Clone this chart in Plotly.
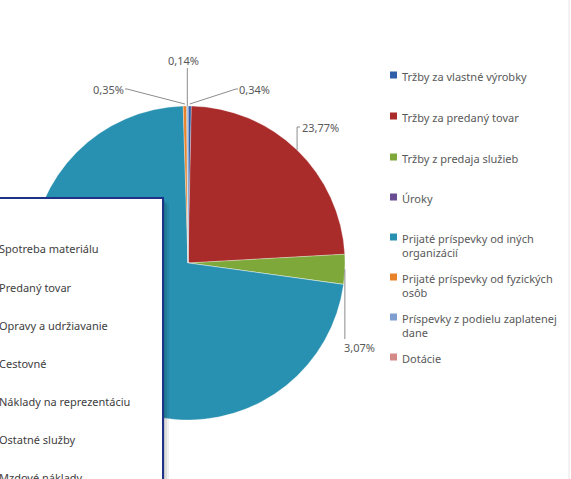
import math
import plotly.graph_objects as go

W, H = 571, 479

# ---- data ----
labels = ["Tržby za vlastné výrobky", "Tržby za predaný tovar", "Tržby z predaja služieb",
          "Úroky", "Prijaté príspevky od iných organizácií", "Prijaté príspevky od fyzických osôb",
          "Príspevky z podielu zaplatenej dane", "Dotácie"]
legend_text = ["Tržby za vlastné výrobky", "Tržby za predaný tovar", "Tržby z predaja služieb",
               "Úroky", "Prijaté príspevky od iných<br>organizácií", "Prijaté príspevky od fyzických<br>osôb",
               "Príspevky z podielu zaplatenej<br>dane", "Dotácie"]
values = [0.34, 23.77, 3.07, 0.0, 72.33, 0.35, 0.14, 0.0]
colors = ["#2f5fa8", "#a92c2b", "#7ea93a", "#6a4c93", "#2890b0", "#e8832a", "#7f9fd0", "#d48a87"]

other_legend = ["Spotreba materiálu", "Predaný tovar", "Opravy a udržiavanie", "Cestovné",
                "Náklady na reprezentáciu", "Ostatné služby", "Mzdové náklady"]

def px(x):
    return x / W

def py(y):
    return 1 - y / H

cx, cy, R = 188, 263, 157

fig = go.Figure()
fig.add_trace(go.Pie(
    labels=labels, values=values, sort=False, direction="clockwise", rotation=0,
    marker=dict(colors=colors, line=dict(color="rgba(255,255,255,0.6)", width=0.5)),
    textinfo="none", hoverinfo="label+percent", showlegend=False,
    domain=dict(x=[px(cx - R), px(cx + R)], y=[py(cy + R), py(cy - R)]),
))

shapes = []
annotations = []
TXT = "#595959"
FONT = "Noto Sans"

def fmt(v):
    return ("%.2f" % v).replace(".", ",") + "%"

# slice mid angles (clockwise from top)
total = sum(values)
cum = 0
mids = []
for v in values:
    mids.append((cum + v / 2) / total * 2 * math.pi)
    cum += v

def edge(i, r=R):
    a = mids[i]
    return cx + r * math.sin(a), cy - r * math.cos(a)

line_col = "#8c8c8c"
# 0,34%
ex, ey = edge(0)
shapes.append(dict(type="path", xref="paper", yref="paper",
                   path=f"M{px(ex)},{py(ey-2)} L{px(236)},{py(89)} L{px(238)},{py(89)}",
                   line=dict(color=line_col, width=1)))
annotations.append(dict(x=px(237), y=py(89), text=fmt(values[0]), xanchor="left", yanchor="middle"))
# 23,77%
ex, ey = edge(1)
shapes.append(dict(type="path", xref="paper", yref="paper",
                   path=f"M{px(ex)},{py(ey)} L{px(ex)},{py(127)} L{px(ex+3)},{py(127)}",
                   line=dict(color=line_col, width=1)))
annotations.append(dict(x=px(ex + 3), y=py(127), text=fmt(values[1]), xanchor="left", yanchor="middle"))
# 3,07%
ex, ey = edge(2)
shapes.append(dict(type="path", xref="paper", yref="paper",
                   path=f"M{px(ex)},{py(ey)} L{px(ex)},{py(339)}",
                   line=dict(color=line_col, width=1)))
annotations.append(dict(x=px(ex - 3), y=py(347), text=fmt(values[2]), xanchor="left", yanchor="middle"))
# 0,35%
ex, ey = edge(5)
shapes.append(dict(type="path", xref="paper", yref="paper",
                   path=f"M{px(ex)},{py(ey-2)} L{px(127)},{py(89)} L{px(125)},{py(89)}",
                   line=dict(color=line_col, width=1)))
annotations.append(dict(x=px(126), y=py(89), text=fmt(values[5]), xanchor="right", yanchor="middle"))
# 0,14%
ex, ey = edge(6)
shapes.append(dict(type="path", xref="paper", yref="paper",
                   path=f"M{px(ex)},{py(ey)} L{px(ex)},{py(68)}",
                   line=dict(color=line_col, width=1)))
annotations.append(dict(x=px(ex - 4), y=py(60), text=fmt(values[6]), xanchor="center", yanchor="middle"))

for a in annotations:
    a.update(xref="paper", yref="paper", showarrow=False, font=dict(family=FONT, size=11, color=TXT))

# right legend
leg_y = [75, 116, 157, 197, 237, 277, 317, 357]
for t, c, y in zip(legend_text, colors, leg_y):
    shapes.append(dict(type="rect", xref="paper", yref="paper",
                       x0=px(390), x1=px(397), y0=py(y + 3.5), y1=py(y - 3.5),
                       fillcolor=c, line=dict(width=0)))
    annotations.append(dict(x=px(400), y=py(y - 8), text=t, xanchor="left", yanchor="top",
                            align="left", xref="paper", yref="paper", showarrow=False,
                            font=dict(family=FONT, size=11, color=TXT)))

# overlaid box from another chart (shadow + box)
for k, col in enumerate(["rgba(0,0,0,0.06)", "rgba(0,0,0,0.08)", "rgba(0,0,0,0.10)"]):
    off = 6 - 2 * k
    shapes.append(dict(type="rect", xref="paper", yref="paper",
                       x0=px(-10), x1=px(163 + off), y0=py(500), y1=py(198 + off),
                       fillcolor=col, line=dict(width=0), layer="above"))
shapes.append(dict(type="rect", xref="paper", yref="paper",
                   x0=px(-10), x1=px(163), y0=py(500), y1=py(198),
                   fillcolor="white", line=dict(color="#1e3288", width=2), layer="above"))
box_y = [249, 287, 325, 363, 401, 439, 477]
for t, y in zip(other_legend, box_y):
    annotations.append(dict(x=px(-3), y=py(y), text=t, xanchor="left", yanchor="middle",
                            xref="paper", yref="paper", showarrow=False,
                            font=dict(family=FONT, size=11, color="#404040")))

# faint right border
shapes.append(dict(type="line", xref="paper", yref="paper", x0=px(569), x1=px(569), y0=0, y1=1,
                   line=dict(color="#e6e6e6", width=1)))

fig.update_layout(width=W, height=H, margin=dict(l=0, r=0, t=0, b=0),
                  paper_bgcolor="white", plot_bgcolor="white",
                  shapes=shapes, annotations=annotations, showlegend=False)
fig.write_html("out.html", config={"displayModeBar": False},
               post_script="document.body.style.margin='0';document.body.style.overflow='hidden';")
